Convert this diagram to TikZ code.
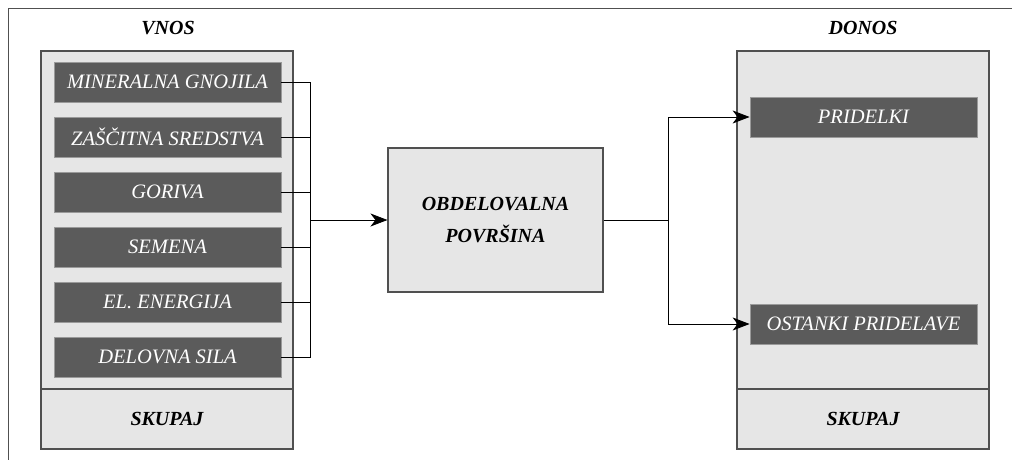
\documentclass[tikz,border=0pt]{standalone}
\usepackage{fontspec}
\setmainfont{Liberation Serif}
\usetikzlibrary{arrows.meta}
\definecolor{panelgray}{HTML}{E6E6E6}
\definecolor{itemgray}{HTML}{5B5B5B}
\definecolor{itemedge}{HTML}{9A9A9A}
\definecolor{framegray}{HTML}{505050}
\tikzset{
  txt/.style={font=\fontsize{20.5}{24}\selectfont\itshape},
  title/.style={font=\fontsize{20}{24}\selectfont\bfseries\itshape, text=black},
  panel/.style={draw=framegray, line width=1.1pt, fill=panelgray, inner sep=0pt},
  item/.style={draw=itemedge, line width=0.8pt, fill=itemgray, text=white, txt,
    minimum width=227pt, minimum height=40pt, inner sep=0pt},
  centrebox/.style={draw=framegray, line width=1.1pt, fill=panelgray, title,
    minimum width=215pt, minimum height=144pt, align=center, inner sep=0pt},
  wire/.style={draw=black, line width=0.8pt},
  flow/.style={wire, -{Stealth[length=17pt, width=13pt, inset=5pt]}}
}
\begin{document}
\begin{tikzpicture}[x=1pt, y=-1pt]
  \useasboundingbox (0,0) rectangle (1012,460);
  % outer frame (top and left edges)
  \draw[framegray, line width=1pt] (8,460) -- (8,9) -- (1012,9);

  % headings
  \node[title] (vnos) at (168,28) {VNOS};
  \node[title] (donos) at (863,28) {DONOS};

  % input panel
  \node[panel, minimum width=252pt, minimum height=338pt] (inbody) at (167,220) {};
  \node[panel, title, minimum width=252pt, minimum height=60pt] (insum) at (167,419) {SKUPAJ};

  \node[item] (i1) at (167.5,82)  {MINERALNA GNOJILA};
  \node[item] (i2) at (167.5,137) {ZAŠČITNA SREDSTVA};
  \node[item] (i3) at (167.5,192) {GORIVA};
  \node[item] (i4) at (167.5,247) {SEMENA};
  \node[item] (i5) at (167.5,302) {EL. ENERGIJA};
  \node[item] (i6) at (167.5,357) {DELOVNA SILA};

  % output panel
  \node[panel, minimum width=252pt, minimum height=338pt] (outbody) at (863,220) {};
  \node[panel, title, minimum width=252pt, minimum height=60pt] (outsum) at (863,419) {SKUPAJ};

  \node[item] (o1) at (863.5,117) {PRIDELKI};
  \node[item] (o2) at (863.5,324) {OSTANKI PRIDELAVE};

  % field
  \node[centrebox] (field) at (495.5,220) {OBDELOVALNA\\[8pt]POVRŠINA};

  % collecting bus on the input side
  \coordinate (bus) at (310,220);
  \foreach \n in {i1,i2,i3,i4,i5,i6}
    \draw[wire] (\n.east) -| (bus);
  \draw[flow] (bus) -- (field.west);

  % split on the output side
  \coordinate (split) at (668,220);
  \draw[wire] (field.east) -- (split);
  \draw[flow] (split) |- (o1.west);
  \draw[flow] (split) |- (o2.west);
\end{tikzpicture}
\end{document}
